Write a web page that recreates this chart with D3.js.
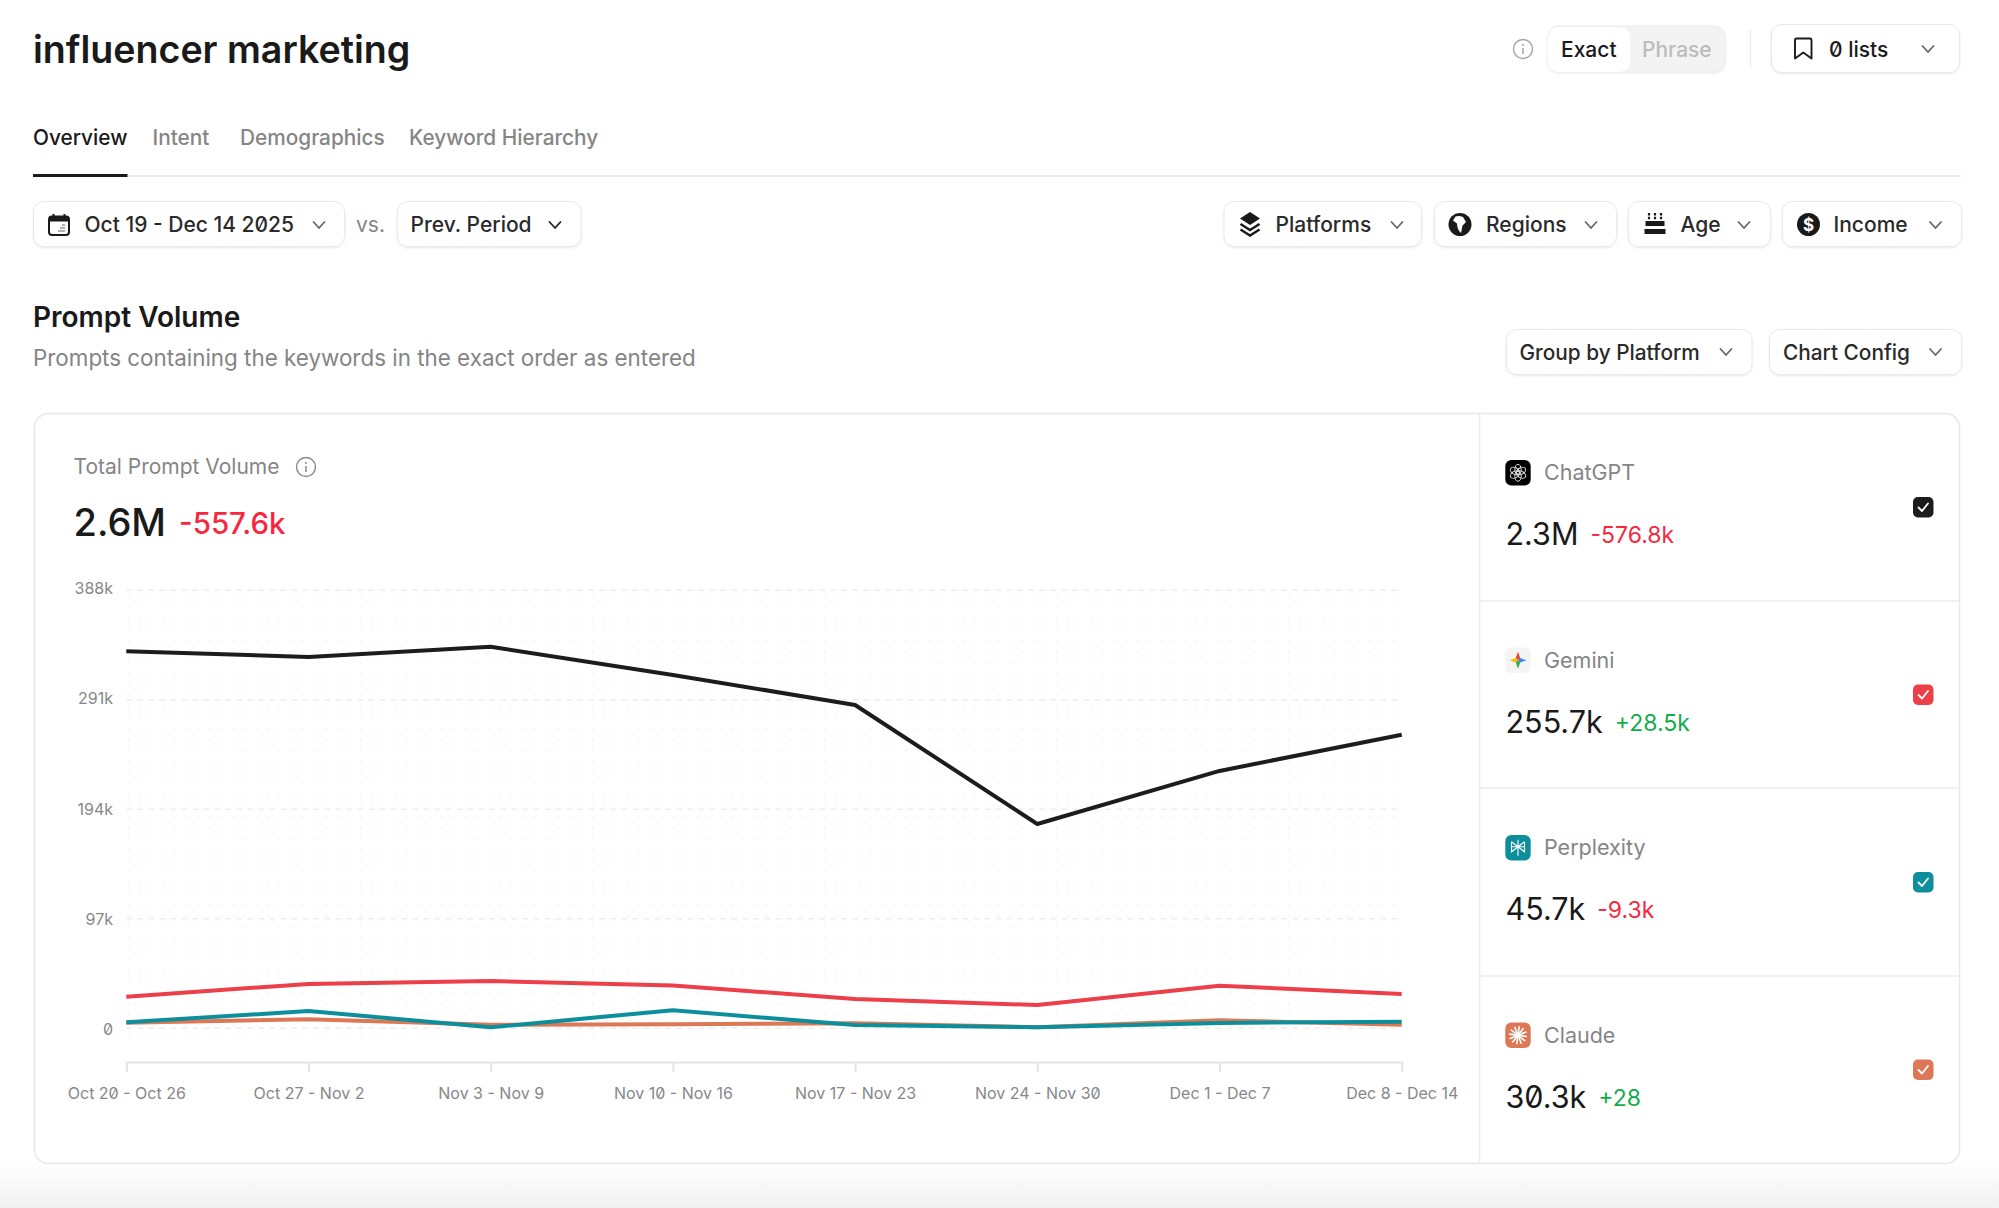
<!DOCTYPE html>
<html>
<head>
<meta charset="utf-8">
<title>influencer marketing</title>
<script src="https://cdn.jsdelivr.net/npm/d3@7"></script>
<style>
	html, body { margin: 0; padding: 0; background: #fff; overflow: hidden; }
	svg { display: block; }
	text { font-family: Inter, "Noto Sans", sans-serif; font-feature-settings: "zero"; }
	.axis text { font-size: 16px; fill: #878787; }
	.axis path, .axis line { stroke: #e4e4e4; stroke-width: 2; }
</style>
</head>
<body>
<script>

// Chart data
const weeks = [ 'Oct 20 - Oct 26', 'Oct 27 - Nov 2', 'Nov 3 - Nov 9', 'Nov 10 - Nov 16', 'Nov 17 - Nov 23', 'Nov 24 - Nov 30', 'Dec 1 - Dec 7', 'Dec 8 - Dec 14' ]
const yTicks = [ 0, 97000, 194000, 291000, 388000 ]

const chatgpt = [ 334000, 329000, 338000, 313000, 286400, 181000, 228000, 260000 ]
const gemini = [ 28000, 39300, 41900, 38000, 26000, 20600, 37700, 30400 ]
const perplexity = [ 5300, 15300, 900, 16000, 2900, 900, 4700, 5900 ]
const claude = [ 5000, 8000, 3200, 3500, 4400, 1000, 7100, 3200 ]

const platformNames = [ 'ChatGPT', 'Gemini', 'Perplexity', 'Claude' ]
const platformTotals = [ '2.3M', '255.7k', '45.7k', '30.3k' ]
const platformDeltas = [ '-576.8k', '+28.5k', '-9.3k', '+28' ]
const platformColors = [ '#1c1c1c', '#ec3f4a', '#0d8f9b', '#dc7856' ]

const tabs = [ 'Overview', 'Intent', 'Demographics', 'Keyword Hierarchy' ]

const width = 1999, height = 1208
const red = '#f6283f', green = '#12ad4b', ink = '#1a1a1a', grey = '#858585', btnInk = '#2a2a2a'

const svg = d3.select( 'body' ).append( 'svg' )
	.attr( 'width', width )
	.attr( 'height', height )

const defs = svg.append( 'defs' )

const shadow = defs.append( 'filter' ).attr( 'id', 'soft' )
	.attr( 'x', '-10%' ).attr( 'y', '-20%' ).attr( 'width', '120%' ).attr( 'height', '150%' )
shadow.append( 'feDropShadow' )
	.attr( 'dx', 0 ).attr( 'dy', 1 ).attr( 'stdDeviation', 1 )
	.attr( 'flood-color', '#000' ).attr( 'flood-opacity', 0.09 )

const fade = defs.append( 'linearGradient' ).attr( 'id', 'fade' )
	.attr( 'x1', 0 ).attr( 'y1', 0 ).attr( 'x2', 0 ).attr( 'y2', 1 )
fade.append( 'stop' ).attr( 'offset', '0%' ).attr( 'stop-color', '#fff' )
fade.append( 'stop' ).attr( 'offset', '100%' ).attr( 'stop-color', '#f1f1f1' )

// Faint dots behind the lines
const dots = defs.append( 'pattern' ).attr( 'id', 'dots' )
	.attr( 'patternUnits', 'userSpaceOnUse' )
	.attr( 'x', 128 ).attr( 'y', 596 )
	.attr( 'width', 11.6 ).attr( 'height', 11 )
dots.append( 'rect' ).attr( 'width', 1.4 ).attr( 'height', 1.4 ).attr( 'fill', '#f0f0f0' )

function label( parent, x, y, str, size, fill, weight ) {
	return parent.append( 'text' )
		.attr( 'x', x )
		.attr( 'y', y )
		.attr( 'font-size', size )
		.attr( 'fill', fill )
		.attr( 'font-weight', weight || 400 )
		.text( str )
}

function chevron( x, y, colour ) {
	svg.append( 'path' )
		.attr( 'd', `M${ x - 5.5 } ${ y - 3 } L${ x } ${ y + 3 } L${ x + 5.5 } ${ y - 3 }` )
		.attr( 'fill', 'none' )
		.attr( 'stroke', colour || '#666' )
		.attr( 'stroke-width', 1.8 )
		.attr( 'stroke-linecap', 'round' )
		.attr( 'stroke-linejoin', 'round' )
}

function button( x0, x1, y0, y1 ) {
	svg.append( 'rect' )
		.attr( 'x', x0 + 0.5 ).attr( 'y', y0 + 0.5 )
		.attr( 'width', x1 - x0 - 1 ).attr( 'height', y1 - y0 - 1 )
		.attr( 'rx', 10 )
		.attr( 'fill', '#fff' )
		.attr( 'stroke', '#e9e9e9' )
		.attr( 'filter', 'url(#soft)' )
}

function infoIcon( x, y, colour ) {
	svg.append( 'circle' ).attr( 'cx', x ).attr( 'cy', y ).attr( 'r', 9.5 )
		.attr( 'fill', 'none' ).attr( 'stroke', colour ).attr( 'stroke-width', 1.4 )
	svg.append( 'circle' ).attr( 'cx', x ).attr( 'cy', y - 4 ).attr( 'r', 1 ).attr( 'fill', colour )
	svg.append( 'path' ).attr( 'd', `M${ x } ${ y - 1 } V${ y + 5 }` )
		.attr( 'stroke', colour ).attr( 'stroke-width', 1.5 )
}

// Page background at the bottom
svg.append( 'rect' ).attr( 'x', 0 ).attr( 'y', 1163 ).attr( 'width', width ).attr( 'height', 45 ).attr( 'fill', 'url(#fade)' )

// Header
label( svg, 33, 63, 'influencer marketing', 37.6, ink, 600 )

infoIcon( 1523, 49, '#a3a3a3' )

svg.append( 'rect' ).attr( 'x', 1548 ).attr( 'y', 26 ).attr( 'width', 177 ).attr( 'height', 46 ).attr( 'rx', 10 )
	.attr( 'fill', '#f3f3f3' ).attr( 'stroke', '#ececec' ).attr( 'filter', 'url(#soft)' )
svg.append( 'rect' ).attr( 'x', 1548 ).attr( 'y', 27 ).attr( 'width', 82 ).attr( 'height', 45 ).attr( 'rx', 10 )
	.attr( 'fill', '#fff' )
label( svg, 1561, 57, 'Exact', 21, ink, 450 )
label( svg, 1642, 57, 'Phrase', 21, '#bcbcbc', 450 )

svg.append( 'path' ).attr( 'd', 'M1750.5 30 V68' ).attr( 'stroke', '#ececec' ).attr( 'stroke-width', 1.5 )

button( 1771, 1960, 24, 73 )
svg.append( 'path' )
	.attr( 'd', 'M1795 40 Q1795 38.5 1796.5 38.5 H1810 Q1811.5 38.5 1811.5 40 V58.5 L1803.3 52.5 L1795 58.5 Z' )
	.attr( 'fill', 'none' ).attr( 'stroke', ink ).attr( 'stroke-width', 1.9 ).attr( 'stroke-linejoin', 'round' )
label( svg, 1829, 57, '0 lists', 21, ink, 450 )
chevron( 1928, 49 )

// Tabs
const tabX = [ 33, 152.5, 240, 409 ]
tabs.forEach( ( t, i ) => label( svg, tabX[ i ], 145, t, 20.8, i === 0 ? ink : grey, i === 0 ? 500 : 450 ) )
svg.append( 'rect' ).attr( 'x', 33 ).attr( 'y', 175 ).attr( 'width', 1928 ).attr( 'height', 2 ).attr( 'fill', '#eeeeee' )
svg.append( 'rect' ).attr( 'x', 33 ).attr( 'y', 174 ).attr( 'width', 94.5 ).attr( 'height', 3 ).attr( 'fill', ink )

// Filter row
button( 33, 345, 201, 247 )
const cal = svg.append( 'g' )
cal.append( 'rect' ).attr( 'x', 49 ).attr( 'y', 216.5 ).attr( 'width', 20 ).attr( 'height', 18.5 ).attr( 'rx', 3 )
	.attr( 'fill', 'none' ).attr( 'stroke', ink ).attr( 'stroke-width', 2 )
cal.append( 'rect' ).attr( 'x', 49 ).attr( 'y', 216.5 ).attr( 'width', 20 ).attr( 'height', 5 ).attr( 'fill', ink )
cal.append( 'path' ).attr( 'd', 'M53.5 214 V218 M64.5 214 V218' ).attr( 'stroke', ink ).attr( 'stroke-width', 2 )
cal.append( 'path' ).attr( 'd', 'M58 231 H65 M60 228 H65 M62 225 H65' ).attr( 'stroke', '#999' ).attr( 'stroke-width', 1.5 )
label( svg, 84.5, 232, 'Oct 19 - Dec 14 2025', 21, btnInk, 450 )
chevron( 319, 225 )
label( svg, 356, 232, 'vs.', 21, grey )
button( 397, 581.5, 201, 247 )
label( svg, 410.5, 232, 'Prev. Period', 21, btnInk, 450 )
chevron( 555, 225, '#222' )

button( 1223.5, 1422, 201, 247 )
const layers = svg.append( 'g' ).attr( 'transform', 'translate(1250,224)' )
layers.append( 'path' ).attr( 'd', 'M0 -12 L10 -5.5 L0 1 L-10 -5.5 Z' ).attr( 'fill', ink )
layers.append( 'path' ).attr( 'd', 'M-9.5 0 L0 6 L9.5 0 M-9.5 5.5 L0 11.5 L9.5 5.5' ).attr( 'fill', 'none' ).attr( 'stroke', ink ).attr( 'stroke-width', 2.4 )
label( svg, 1275.5, 232, 'Platforms', 21, btnInk, 450 )
chevron( 1397, 225 )

button( 1434, 1617, 201, 247 )
const globe = svg.append( 'g' ).attr( 'transform', 'translate(1460,224.5)' )
globe.append( 'circle' ).attr( 'r', 11.5 ).attr( 'fill', ink )
globe.append( 'path' ).attr( 'd', 'M-4.5 -8 Q-1 -9 3 -7.5 L6 -2.5 L2.5 1 L1 8.5 Q-3 5 -3 -1 L-7 -4 Z' ).attr( 'fill', '#fff' )
label( svg, 1486, 232, 'Regions', 21, btnInk, 450 )
chevron( 1591, 225 )

button( 1628, 1771, 201, 247 )
const cake = svg.append( 'g' ).attr( 'transform', 'translate(1655,224)' )
cake.append( 'path' ).attr( 'd', 'M-9.5 -3 H9.5 V2 H-9.5 Z M-10.5 5 H10.5 V10 H-10.5 Z' ).attr( 'fill', ink )
cake.append( 'path' ).attr( 'd', 'M-6 -11 V-4.5 M0 -11 V-4.5 M6 -11 V-4.5' ).attr( 'stroke', ink ).attr( 'stroke-width', 2.2 ).attr( 'stroke-dasharray', '2.5 1.2' )
label( svg, 1680.5, 232, 'Age', 21, btnInk, 450 )
chevron( 1744, 225 )

button( 1782, 1962, 201, 247 )
const coin = svg.append( 'g' ).attr( 'transform', 'translate(1808.5,224.5)' )
coin.append( 'circle' ).attr( 'r', 11.5 ).attr( 'fill', ink )
coin.append( 'text' ).attr( 'text-anchor', 'middle' ).attr( 'y', 6 ).attr( 'font-size', 17 ).attr( 'font-weight', 700 ).attr( 'fill', '#fff' ).text( '$' )
label( svg, 1833.5, 232, 'Income', 21, btnInk, 450 )
chevron( 1935.5, 225 )

// Section title
label( svg, 33, 327, 'Prompt Volume', 28, ink, 600 )
label( svg, 33, 366, 'Prompts containing the keywords in the exact order as entered', 22.4, grey )

button( 1506, 1752.5, 329, 375 )
label( svg, 1519.5, 360, 'Group by Platform', 20.8, btnInk, 450 )
chevron( 1726, 352 )
button( 1769, 1962, 329, 375 )
label( svg, 1783, 360, 'Chart Config', 20.8, btnInk, 450 )
chevron( 1935.5, 352 )

// Card
svg.append( 'rect' ).attr( 'x', 34.5 ).attr( 'y', 413.5 ).attr( 'width', 1925 ).attr( 'height', 750 ).attr( 'rx', 14 )
	.attr( 'fill', '#fff' ).attr( 'stroke', '#e8e8e8' ).attr( 'stroke-width', 1.5 )
svg.append( 'path' ).attr( 'd', 'M1479.5 414 V1163 M1480 601 H1959 M1480 788 H1959 M1480 976 H1959' )
	.attr( 'stroke', '#ebebeb' ).attr( 'stroke-width', 1.5 ).attr( 'fill', 'none' )

label( svg, 73.5, 474, 'Total Prompt Volume', 21, grey, 400 )
infoIcon( 306, 467, '#8a8a8a' )
label( svg, 73.5, 536, '2.6M', 38, ink, 500 )
label( svg, 179, 534, '-557.6k', 29.5, red, 500 )

// Chart
const x = d3.scalePoint().domain( weeks ).range( [ 126.3, 1401.7 ] )
const y = d3.scaleLinear().domain( [ 0, 388000 ] ).range( [ 1028.3, 590.3 ] )

svg.append( 'rect' ).attr( 'x', x.range()[ 0 ] ).attr( 'y', y.range()[ 1 ] )
	.attr( 'width', x.range()[ 1 ] - x.range()[ 0 ] ).attr( 'height', 456 ).attr( 'fill', 'url(#dots)' )

svg.append( 'g' ).selectAll( 'line' )
	.data( yTicks )
	.enter()
	.append( 'line' )
	.attr( 'x1', x.range()[ 0 ] )
	.attr( 'x2', x.range()[ 1 ] )
	.attr( 'y1', d => y( d ) )
	.attr( 'y2', d => y( d ) )
	.attr( 'stroke', '#eeeeee' )
	.attr( 'stroke-width', 1.5 )
	.attr( 'stroke-dasharray', '6 5' )

// The tick labels run slightly wider than the gridlines in the original
const yLabels = y.copy().range( [ 1031.3, 590.3 ] )

const yAxis = svg.append( 'g' )
	.attr( 'class', 'axis' )
	.attr( 'transform', 'translate( 113, 0 )' )
	.call( d3.axisLeft( yLabels ).tickValues( yTicks ).tickSize( 0 ).tickPadding( 0 ).tickFormat( d3.format( '~s' ) ) )
yAxis.select( '.domain' ).remove()
yAxis.selectAll( 'text' ).attr( 'dy', '0.2em' )

const xAxis = svg.append( 'g' )
	.attr( 'class', 'axis' )
	.attr( 'transform', 'translate( 0, 1062 )' )
	.call( d3.axisBottom( x ).tickSize( 10 ).tickSizeOuter( 10 ).tickPadding( 16 ) )
xAxis.selectAll( 'text' ).attr( 'dy', '0.71em' )

const line = d3.line()
	.x( ( d, i ) => x( weeks[ i ] ) )
	.y( d => y( d ) )

// Claude sits under Perplexity in the picture
const drawOrder = [ [ chatgpt, 0 ], [ gemini, 1 ], [ claude, 3 ], [ perplexity, 2 ] ]

svg.append( 'g' ).selectAll( 'path' )
	.data( drawOrder )
	.enter()
	.append( 'path' )
	.attr( 'd', d => line( d[ 0 ] ) )
	.attr( 'fill', 'none' )
	.attr( 'stroke', d => platformColors[ d[ 1 ] ] )
	.attr( 'stroke-width', 4 )
	.attr( 'stroke-linejoin', 'round' )

// Platform rows
const rowStep = 187.5

function platformIcon( g, i ) {
	const bg = [ '#000', '#f4f4f4', '#0d8f9b', '#dc7856' ][ i ]
	g.append( 'rect' ).attr( 'x', -12.7 ).attr( 'y', -12.7 ).attr( 'width', 25.4 ).attr( 'height', 25.4 ).attr( 'rx', 6 ).attr( 'fill', bg )

	if ( i === 0 ) {
		d3.range( 6 ).forEach( k => {
			g.append( 'ellipse' ).attr( 'cx', 0 ).attr( 'cy', -3.5 ).attr( 'rx', 3.2 ).attr( 'ry', 5 )
				.attr( 'transform', `rotate( ${ k * 60 } )` )
				.attr( 'fill', 'none' ).attr( 'stroke', '#ddd' ).attr( 'stroke-width', 1 )
		})
	}

	if ( i === 1 ) {
		const colours = [ '#ea4335', '#4285f4', '#34a853', '#fbbc04' ]
		d3.range( 4 ).forEach( k => {
			g.append( 'path' ).attr( 'd', 'M0 0 L2.2 -2.2 L8.5 0 L2.2 2.2 Z' )
				.attr( 'transform', `rotate( ${ k * 90 - 90 } )` ).attr( 'fill', colours[ k ] )
		})
	}

	if ( i === 2 ) {
		g.append( 'path' )
			.attr( 'd', 'M0 -8 V8 M-6.5 -6 L0 -1 L6.5 -6 M-6.5 -6 V4 L0 -1 L6.5 4 V-6 M-7 -1 H7' )
			.attr( 'fill', 'none' ).attr( 'stroke', '#fff' ).attr( 'stroke-width', 1.1 )
	}

	if ( i === 3 ) {
		d3.range( 12 ).forEach( k => {
			g.append( 'path' ).attr( 'd', 'M0 0 V-8.5' )
				.attr( 'transform', `rotate( ${ k * 30 + 8 } )` )
				.attr( 'stroke', '#fff' ).attr( 'stroke-width', 1.6 ).attr( 'stroke-linecap', 'round' )
		})
	}
}

platformNames.forEach( ( name, i ) => {

	const row = svg.append( 'g' ).attr( 'transform', `translate( 0, ${ i * rowStep } )` )

	platformIcon( row.append( 'g' ).attr( 'transform', 'translate( 1518, 472.8 )' ), i )
	label( row, 1544, 480, name, 21.5, grey )

	const total = label( row, 1505.5, 545, platformTotals[ i ], 30.5, ink, 400 )
	const gap = total.node().getComputedTextLength() + 12
	label( row, 1505.5 + gap, 543, platformDeltas[ i ], 23, platformDeltas[ i ][ 0 ] === '-' ? red : green, 400 )

	row.append( 'rect' ).attr( 'x', 1913 ).attr( 'y', 497 ).attr( 'width', 20.5 ).attr( 'height', 20.5 ).attr( 'rx', 5 )
		.attr( 'fill', platformColors[ i ] )
	row.append( 'path' ).attr( 'd', 'M1918.5 507.5 L1922 511 L1928 503.5' )
		.attr( 'fill', 'none' ).attr( 'stroke', '#fff' ).attr( 'stroke-width', 1.8 )
		.attr( 'stroke-linecap', 'round' ).attr( 'stroke-linejoin', 'round' )

})

</script>
</body>
</html>
